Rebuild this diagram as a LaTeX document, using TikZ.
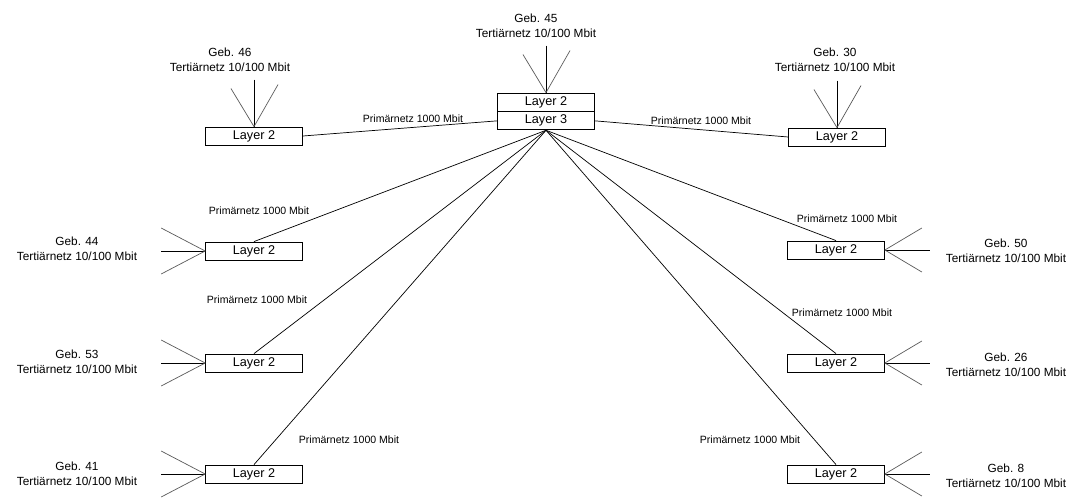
\documentclass[tikz,border=0pt]{standalone}
\usepackage{fontspec}
\setmainfont{Liberation Sans}
\usetikzlibrary{positioning,calc}
\tikzset{%
  layerbox/.style={draw=black,line width=0.6pt,minimum width=2.42cm,
    minimum height=0.45cm,inner sep=0pt,font=\fontsize{9}{10}\selectfont},
  gebtext/.style={align=center,inner sep=0pt,font=\fontsize{8.4}{10.6}\selectfont},
  primlabel/.style={inner sep=0pt,font=\fontsize{7.5}{8}\selectfont},
  link/.style={line width=0.5pt,black},
  fanline/.style={line width=0.5pt,black!65}
}

\begin{document}
\begin{tikzpicture}[x=0.025cm,y=-0.025cm]
  \useasboundingbox (0,0) rectangle (1084,502);
  % Zentrale
  \node[layerbox] (c2) at (546,102) {Layer 2};
  \node[layerbox, below=0pt of c2] (c3) {Layer 3};
  % Gebaeude-Switches
  \node[layerbox] (g46) at (254,136) {Layer 2};
  \node[layerbox] (g30) at (837,137) {Layer 2};
  \node[layerbox] (g44) at (254,251) {Layer 2};
  \node[layerbox] (g53) at (254,363) {Layer 2};
  \node[layerbox] (g41) at (254,474) {Layer 2};
  \node[layerbox] (g50) at (836,250) {Layer 2};
  \node[layerbox] (g26) at (836,363) {Layer 2};
  \node[layerbox] (g8) at (836,474) {Layer 2};
  % Gebaeude-Texte
  \node[gebtext] (t45) at (536,26) {Geb. 45\\Tertiärnetz 10/100 Mbit};
  \node[gebtext] (t46) at (230,60) {Geb. 46\\Tertiärnetz 10/100 Mbit};
  \node[gebtext] (t30) at (835,60) {Geb. 30\\Tertiärnetz 10/100 Mbit};
  \node[gebtext] (t44) at (77,249) {Geb. 44\\Tertiärnetz 10/100 Mbit};
  \node[gebtext] (t53) at (77,362) {Geb. 53\\Tertiärnetz 10/100 Mbit};
  \node[gebtext] (t41) at (77,474) {Geb. 41\\Tertiärnetz 10/100 Mbit};
  \node[gebtext] (t50) at (1006,251) {Geb. 50\\Tertiärnetz 10/100 Mbit};
  \node[gebtext] (t26) at (1006,365) {Geb. 26\\Tertiärnetz 10/100 Mbit};
  \node[gebtext] (t8) at (1006,476) {Geb. 8\\Tertiärnetz 10/100 Mbit};
  % Primaernetz
  \draw[link] (g46.east) -- (c3.west);
  \draw[link] (c3.east) -- (g30.west);
  \foreach \g in {g44,g53,g41,g50,g26,g8}
    \draw[link] (c3.south) -- (\g.north);
  \node[primlabel] (p46) at (413,119) {Primärnetz 1000 Mbit};
  \node[primlabel] (p30) at (701,121) {Primärnetz 1000 Mbit};
  \node[primlabel] (p44) at (259,211) {Primärnetz 1000 Mbit};
  \node[primlabel] (p53) at (257,300) {Primärnetz 1000 Mbit};
  \node[primlabel] (p41) at (349,440) {Primärnetz 1000 Mbit};
  \node[primlabel] (p50) at (847,219) {Primärnetz 1000 Mbit};
  \node[primlabel] (p26) at (842,313) {Primärnetz 1000 Mbit};
  \node[primlabel] (p8) at (750,440) {Primärnetz 1000 Mbit};
  % Tertiaernetz (oben)
  \foreach \g in {c2,g46,g30}{
    \coordinate (\g-m) at ($(\g.north)+(0,-47)$);
    \coordinate (\g-a) at ($(\g.north)+(-23,-38)$);
    \coordinate (\g-b) at ($(\g.north)+(24,-42)$);
    \draw[link] (\g-m) -- (\g.north);
    \draw[fanline] (\g-a) -- (\g.north);
    \draw[fanline] (\g-b) -- (\g.north);
  }
  % Tertiaernetz (links)
  \foreach \g in {g44,g53,g41}{
    \coordinate (\g-m) at ($(\g.west)+(-44,0)$);
    \coordinate (\g-a) at ($(\g.west)+(-44,-23)$);
    \coordinate (\g-b) at ($(\g.west)+(-44,23)$);
    \draw[link] (\g-m) -- (\g.west);
    \draw[fanline] (\g-a) -- (\g.west);
    \draw[fanline] (\g-b) -- (\g.west);
  }
  % Tertiaernetz (rechts)
  \foreach \g in {g50,g26,g8}{
    \coordinate (\g-m) at ($(\g.east)+(45,0)$);
    \coordinate (\g-a) at ($(\g.east)+(37,-22)$);
    \coordinate (\g-b) at ($(\g.east)+(37,22)$);
    \draw[link] (\g.east) -- (\g-m);
    \draw[fanline] (\g.east) -- (\g-a);
    \draw[fanline] (\g.east) -- (\g-b);
  }
\end{tikzpicture}
\end{document}
